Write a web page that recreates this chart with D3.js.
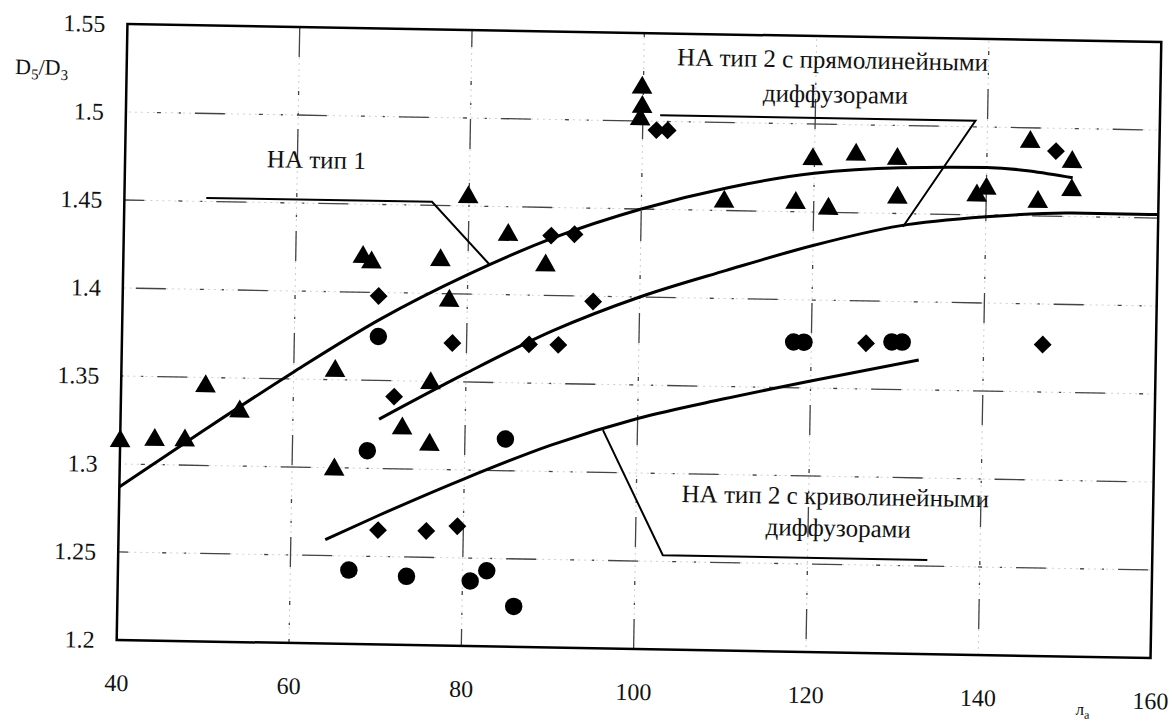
<!doctype html>
<html>
<head>
<meta charset="utf-8">
<style>
  body { margin: 0; background: #fff; }
  text { font-family: "Liberation Serif", "Times New Roman", serif; fill: #111; }
</style>
</head>
<body>
<div class="figure"></div>
<script src="https://d3js.org/d3.v7.min.js"></script>
<script>
// значения: x = λa, y = D5/D3
let xTicks = [40, 60, 80, 100, 120, 140, 160];
let yTicks = [1.2, 1.25, 1.3, 1.35, 1.4, 1.45, 1.5, 1.55];
let yTickLabels = ["1.2", "1.25", "1.3", "1.35", "1.4", "1.45", "1.5", "1.55"];

let triangles = [
  [40, 1.313], [44, 1.314], [47.5, 1.314], [49.8, 1.345], [53.8, 1.331],
  [64.8, 1.355], [64.9, 1.299], [67.8, 1.420], [68.8, 1.417], [72.7, 1.323],
  [75.9, 1.314], [75.9, 1.349], [76.8, 1.419], [77.9, 1.396], [79.9, 1.455],
  [84.6, 1.434], [89.0, 1.417], [99.85, 1.519], [99.9, 1.508], [99.7, 1.501],
  [109.6, 1.455], [117.9, 1.455], [119.8, 1.480], [121.7, 1.452], [124.8, 1.483],
  [129.6, 1.481], [129.7, 1.459], [138.9, 1.461], [140.0, 1.465], [145.0, 1.492],
  [146.0, 1.458], [149.9, 1.481], [149.9, 1.465]
];
let diamonds = [
  [69.7, 1.398], [71.7, 1.341], [70.1, 1.265], [75.7, 1.265], [79.3, 1.268],
  [78.35, 1.372], [87.25, 1.372], [89.6, 1.434], [92.3, 1.435], [90.65, 1.372],
  [94.6, 1.397], [101.6, 1.495], [102.9, 1.495], [126.35, 1.376], [146.85, 1.377],
  [148.0, 1.487]
];
let circles = [
  [69.75, 1.375], [68.7, 1.310], [84.7, 1.318], [66.8, 1.242], [73.5, 1.239],
  [80.9, 1.237], [82.8, 1.243], [86.0, 1.223], [117.95, 1.376], [119.15, 1.376],
  [129.35, 1.377], [130.55, 1.377]
];

// аппроксимирующие кривые
let curveType1 = [[40, 1.287], [50, 1.321], [60, 1.354], [70, 1.385], [80, 1.411], [90, 1.433],
  [100, 1.450], [110, 1.463], [120, 1.472], [130, 1.476], [140, 1.477], [150, 1.472]];
let curveStraight = [[70, 1.328], [80, 1.355], [90, 1.380], [100, 1.400], [110, 1.416],
  [120, 1.431], [130, 1.443], [140, 1.449], [150, 1.452], [160, 1.452]];
let curveCurved = [[64, 1.259], [70, 1.273], [80, 1.295], [90, 1.315], [100, 1.331],
  [110, 1.343], [120, 1.354], [132.5, 1.367]];

// выноски
let leader1 = [[49.5, 1.452], [75.7, 1.452], [82.5, 1.417]];
let leader2 = [[102, 1.5035], [138.6, 1.5035], [130.4, 1.4425]];
let leader3 = [[96, 1.324], [103.2, 1.2535], [133.9, 1.2535]];

let W = 1172, H = 725;
let mLeft = 122, mRight = 1156, mTop = 33, mBottom = 649;

let svg = d3.select(".figure")
  .append("svg")
  .attr("width", W)
  .attr("height", H)
  .style("background-color", "white");

// скан слегка повёрнут
let g = svg.append("g").attr("transform", "rotate(1, 638, 340)");

let x = d3.scaleLinear().domain([40, 160]).range([mLeft, mRight]);
let y = d3.scaleLinear().domain([1.2, 1.55]).range([mBottom, mTop]);

// сетка: бледные точки + тёмные штрихи
let innerX = xTicks.slice(1, -1);
let innerY = yTicks.slice(1, -1);

[["#cfcfcf", 1, "2,4"], ["#444", 1.3, "30,34,4,18,2,14"]].forEach(function (s, k) {
  g.selectAll(".gx" + k).data(innerX).enter().append("line")
    .attr("x1", d => x(d)).attr("x2", d => x(d))
    .attr("y1", mTop).attr("y2", mBottom)
    .attr("stroke", s[0]).attr("stroke-width", s[1])
    .attr("stroke-dasharray", s[2])
    .attr("stroke-dashoffset", (d, i) => i * 13);
  g.selectAll(".gy" + k).data(innerY).enter().append("line")
    .attr("x1", mLeft).attr("x2", mRight)
    .attr("y1", d => y(d)).attr("y2", d => y(d))
    .attr("stroke", s[0]).attr("stroke-width", s[1])
    .attr("stroke-dasharray", s[2])
    .attr("stroke-dashoffset", (d, i) => 20 + i * 23);
});

// рамка
g.append("rect")
  .attr("x", mLeft).attr("y", mTop)
  .attr("width", mRight - mLeft).attr("height", mBottom - mTop)
  .attr("fill", "none").attr("stroke", "#000").attr("stroke-width", 2.5);

// оси (только подписи)
let ax = g.append("g").attr("transform", "translate(0," + mBottom + ")")
  .call(d3.axisBottom(x).tickValues(xTicks).tickSize(0).tickPadding(34).tickFormat(d3.format("d")));
let ay = g.append("g").attr("transform", "translate(" + mLeft + ",0)")
  .call(d3.axisLeft(y).tickValues(yTicks).tickSize(0).tickPadding(22)
    .tickFormat((d, i) => yTickLabels[i]));
[ax, ay].forEach(a => {
  a.select(".domain").remove();
  a.selectAll("text").style("font-size", "24px").style("font-family", "'Liberation Serif', serif").attr("fill", "#111");
});

// кривые
let line = d3.line().x(d => x(d[0])).y(d => y(d[1])).curve(d3.curveMonotoneX);
[curveType1, curveStraight, curveCurved].forEach(c => {
  g.append("path").attr("d", line(c))
    .attr("fill", "none").attr("stroke", "#000").attr("stroke-width", 3);
});

let straight = d3.line().x(d => x(d[0])).y(d => y(d[1]));
[leader1, leader2, leader3].forEach(c => {
  g.append("path").attr("d", straight(c))
    .attr("fill", "none").attr("stroke", "#000").attr("stroke-width", 2);
});

// маркеры
g.selectAll(".tri").data(triangles).enter().append("path")
  .attr("d", d3.symbol().type(d3.symbolTriangle).size(185))
  .attr("transform", d => "translate(" + x(d[0]) + "," + y(d[1]) + ")")
  .attr("fill", "#000");
g.selectAll(".dia").data(diamonds).enter().append("path")
  .attr("d", d3.symbol().type(d3.symbolSquare).size(160))
  .attr("transform", d => "translate(" + x(d[0]) + "," + y(d[1]) + ") rotate(45)")
  .attr("fill", "#000");
g.selectAll(".cir").data(circles).enter().append("path")
  .attr("d", d3.symbol().type(d3.symbolCircle).size(240))
  .attr("transform", d => "translate(" + x(d[0]) + "," + y(d[1]) + ")")
  .attr("fill", "#000");

// надписи
function label(txt, vx, vy) {
  g.append("text").attr("x", x(vx)).attr("y", y(vy))
    .attr("text-anchor", "middle").style("font-size", "25px").text(txt);
}
label("НА тип 1", 62.2, 1.470);
label("НА тип 2 с прямолинейными", 121.9, 1.532);
label("диффузорами", 122.3, 1.5124);
label("НА тип 2 с криволинейными", 123.1, 1.284);
label("диффузорами", 123.5, 1.266);

// подпись оси Y
let yl = g.append("text").attr("x", 37).attr("y", 85).attr("text-anchor", "middle").style("font-size", "22px");
yl.append("tspan").text("D");
yl.append("tspan").attr("dy", 5).style("font-size", "15px").text("5");
yl.append("tspan").attr("dy", -5).text("/D");
yl.append("tspan").attr("dy", 5).style("font-size", "15px").text("3");

// подпись оси X
let xl = g.append("text").attr("x", 1082).attr("y", 707).style("font-size", "17px");
xl.append("tspan").text("л");
xl.append("tspan").attr("dy", 4).style("font-size", "12px").text("а");
</script>
</body>
</html>
